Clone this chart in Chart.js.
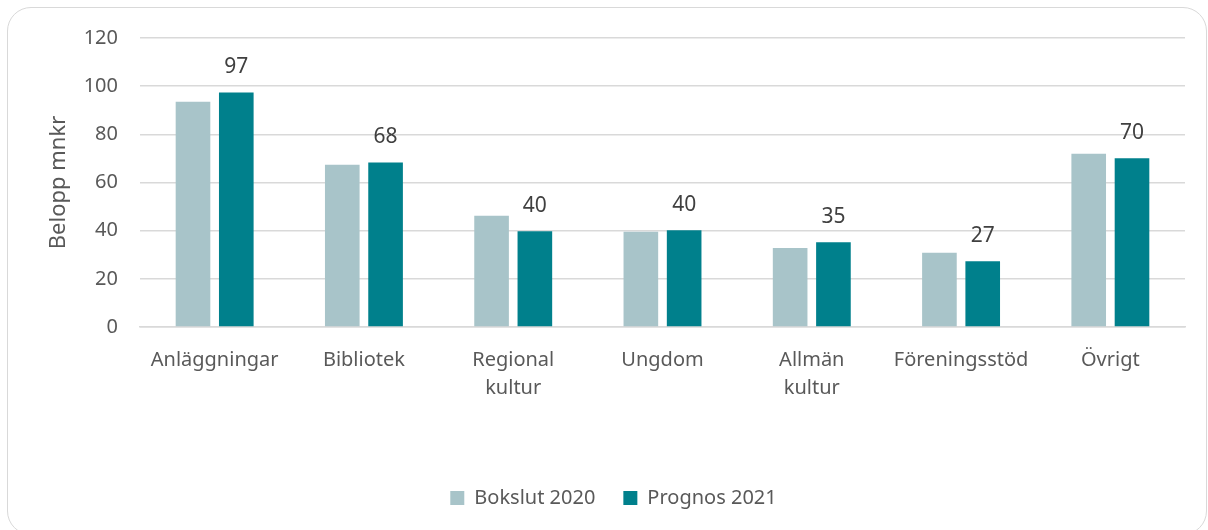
<!DOCTYPE html>
<html>
<head>
<meta charset="utf-8">
<script src="https://cdn.jsdelivr.net/npm/chart.js@4/dist/chart.umd.min.js"></script>
<style>
  html, body { margin: 0; padding: 0; background: #fff; }
  #wrap { position: relative; width: 1208px; height: 530px; overflow: hidden; }
  #frame {
    position: absolute; left: 7px; top: 7px; width: 1200px; height: 528px;
    border: 1.5px solid #d9d9d9; border-radius: 24px; box-sizing: border-box;
  }
  #chart { position: absolute; left: 0; top: 0; }
</style>
</head>
<body>
<div id="wrap">
  <div id="frame"></div>
  <canvas id="chart" width="1208" height="530"></canvas>
</div>
<script>
const categories = [
    "Anläggningar",
    "Bibliotek",
    ["Regional", "kultur"],
    "Ungdom",
    ["Allmän", "kultur"],
    "Föreningsstöd",
    "Övrigt"
];
const bokslut2020 = [93.5, 67.4, 46.2, 39.5, 32.8, 30.8, 71.9];
const prognos2021 = [97.4, 68.3, 39.8, 40.2, 35.2, 27.3, 70.1];
const yTicks = [0, 20, 40, 60, 80, 100, 120];

const textColor = "#595959";
const fontFamily = "'Noto Sans', 'Open Sans', sans-serif";

// labels above the prognos bars only
const valueLabels = {
    id: 'valueLabels',
    afterDatasetsDraw(chart) {
        const ctx = chart.ctx;
        const meta = chart.getDatasetMeta(1);
        ctx.save();
        ctx.font = "21px " + fontFamily;
        ctx.fillStyle = "#404040";
        ctx.textAlign = "center";
        ctx.textBaseline = "middle";
        meta.data.forEach((bar, i) => {
            ctx.fillText(Math.round(prognos2021[i]), bar.x, bar.y - 25);
        });
        ctx.restore();
    }
};

// legend sits centred on the whole frame, not on the chart box
const legendShift = {
    id: 'legendShift',
    afterLayout(chart) {
        chart.legend.left += 21;
        chart.legend.right += 21;
    }
};

const ctx = document.getElementById("chart").getContext("2d");

new Chart(ctx, {
    type: 'bar',
    data: {
        labels: categories,
        datasets: [
            {
                label: "Bokslut 2020",
                data: bokslut2020,
                backgroundColor: "#a8c4c9",
                categoryPercentage: 0.58,
                barPercentage: 0.8,
            },
            {
                label: "Prognos 2021",
                data: prognos2021,
                backgroundColor: "#00808c",
                categoryPercentage: 0.58,
                barPercentage: 0.8,
            }
        ]
    },
    options: {
        responsive: false,
        animation: false,
        layout: {
            padding: { top: 38, right: 23, bottom: 12, left: 0 }
        },
        plugins: {
            legend: {
                position: 'bottom',
                labels: {
                    boxWidth: 14,
                    boxHeight: 14,
                    padding: 28,
                    color: textColor,
                    font: { family: fontFamily, size: 20 }
                }
            },
            tooltip: { enabled: false }
        },
        scales: {
            x: {
                grid: { display: false },
                border: { color: "#d9d9d9", width: 1.5 },
                ticks: {
                    color: textColor,
                    padding: 11,
                    maxRotation: 0,
                    autoSkip: false,
                    font: { family: fontFamily, size: 20, lineHeight: 1.4 }
                },
                afterFit: (s) => { s.height = 133; }
            },
            y: {
                min: 0,
                max: 120,
                afterBuildTicks: (s) => { s.ticks = yTicks.map(v => ({ value: v })); },
                grid: { color: "#d9d9d9", lineWidth: 1.5, drawTicks: false },
                border: { display: false },
                ticks: {
                    color: textColor,
                    padding: 22,
                    font: { family: fontFamily, size: 20 }
                },
                title: {
                    display: true,
                    text: "Belopp mnkr",
                    color: textColor,
                    font: { family: fontFamily, size: 22 },
                    padding: { top: 46, bottom: 0 }
                },
                afterFit: (s) => { s.width = 140; }
            }
        }
    },
    plugins: [valueLabels, legendShift]
});
</script>
</body>
</html>
